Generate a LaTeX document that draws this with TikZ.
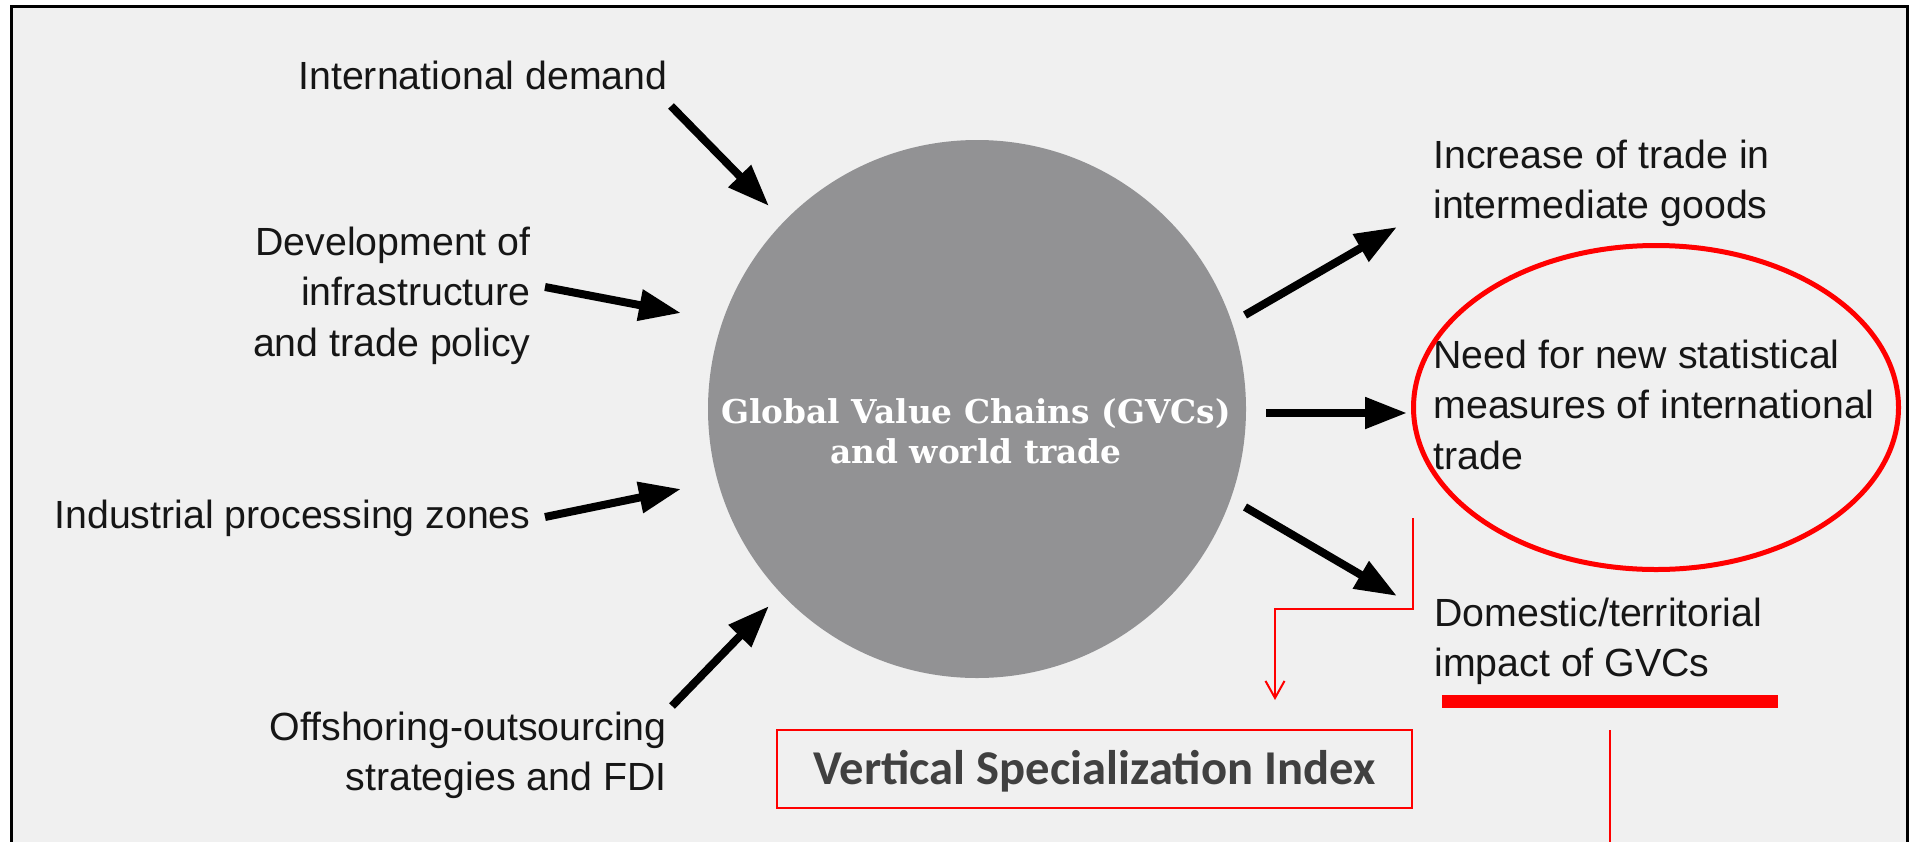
\documentclass[tikz,border=0pt]{standalone}
\usepackage{fontspec}
\setmainfont{Liberation Sans}
\newfontfamily\slabfont{DejaVu Serif}
\newfontfamily\calibfont{Carlito}
\usetikzlibrary{arrows.meta}
\definecolor{bgcol}{RGB}{240,240,240}
\definecolor{disccol}{RGB}{146,146,148}
\definecolor{txtcol}{RGB}{22,22,22}
\definecolor{vsicol}{RGB}{64,64,64}
\definecolor{myred}{RGB}{255,0,0}
\begin{document}
\begin{tikzpicture}[x=0.5pt,y=-0.5pt,
  lbl/.style={inner sep=0pt, text=txtcol, font=\fontsize{19.65}{25.3}\selectfont},
  bigarrow/.style={line width=4pt, draw=black, -{Triangle[length=21pt,width=15pt]}},
  thinred/.style={draw=myred, line width=1pt},
  frame/.style={draw=black, line width=1.5pt, fill=bgcol}]
\useasboundingbox (0,0) rectangle (1911,841);
\clip (0,0) rectangle (1911,841);
\fill[white] (0,0) rectangle (1911,841);
\draw[frame] (11,6) rectangle (1907,900);

% central disc
\node[circle, fill=disccol, minimum size=269pt, inner sep=0pt] (gvc) at (977,409) {};
\node[anchor=base, inner sep=0pt, text=white, font=\slabfont\bfseries\fontsize{16.4}{20}\selectfont] (gvctext) at (976,423)
  {\begin{tabular}[t]{@{}c@{}}Global Value Chains (GVCs)\\ and world trade\end{tabular}};

% left labels
\node[lbl, anchor=base east] (intdem) at (668,89) {International demand};
\node[lbl, anchor=base east] (devel) at (531,255)
  {\begin{tabular}[t]{@{}r@{}}Development of\\ infrastructure\\ and trade policy\end{tabular}};
\node[lbl, anchor=base east] (ipz) at (531,528) {Industrial processing zones};
\node[lbl, anchor=base east] (offs) at (667,740)
  {\begin{tabular}[t]{@{}r@{}}Offshoring-outsourcing\\ strategies and FDI\end{tabular}};

% right labels
\node[lbl, anchor=base west] (incr) at (1433,168)
  {\begin{tabular}[t]{@{}l@{}}Increase of trade in\\ intermediate goods\end{tabular}};
\node[lbl, anchor=base west] (need) at (1433,368)
  {\begin{tabular}[t]{@{}l@{}}Need for new statistical\\ measures of international\\ trade\end{tabular}};
\node[lbl, anchor=base west] (dome) at (1434,626)
  {\begin{tabular}[t]{@{}l@{}}Domestic/territorial\\ impact of GVCs\end{tabular}};

% arrow end points
\coordinate (a1s) at (671,106);  \coordinate (a1e) at (769,206);
\coordinate (a2s) at (545,287);  \coordinate (a2e) at (681,313);
\coordinate (a3s) at (545,517);  \coordinate (a3e) at (681,489);
\coordinate (a4s) at (672,706);  \coordinate (a4e) at (769,606);
\coordinate (a5s) at (1245,315); \coordinate (a5e) at (1397,227);
\coordinate (a6s) at (1266,413); \coordinate (a6e) at (1407,413);
\coordinate (a7s) at (1245,507); \coordinate (a7e) at (1397,596);

\draw[bigarrow] (a1s) -- (a1e);
\draw[bigarrow] (a2s) -- (a2e);
\draw[bigarrow] (a3s) -- (a3e);
\draw[bigarrow] (a4s) -- (a4e);
\draw[bigarrow] (a5s) -- (a5e);
\draw[bigarrow] (a6s) -- (a6e);
\draw[bigarrow] (a7s) -- (a7e);

% red annotations
\draw[draw=myred, line width=2.5pt] (1656,407.5) ellipse [x radius=242.5, y radius=162];
\node[fill=myred, minimum width=168pt, minimum height=6.5pt, inner sep=0pt] (bar) at (1610,701.5) {};
\node[draw=myred, line width=1pt, minimum width=317.5pt, minimum height=39pt, inner sep=0pt,
      text=vsicol, font=\calibfont\bfseries\fontsize{24.3}{28}\selectfont,
      text height=15.6pt, text depth=0pt] (vsi) at (1094.5,768.5) {Vertical Specialization Index};
\coordinate (rcs) at (1413,518);
\coordinate (rce) at (1275,700);
\draw[thinred, -{Straight Barb[length=8.5pt,width=9.5pt]}] (rcs) -- (1413,609) -- (1275,609) -- (rce);
\coordinate (vls) at (1610,730);
\coordinate (vle) at (1610,850);
\draw[thinred] (vls) -- (vle);
\end{tikzpicture}
\end{document}
